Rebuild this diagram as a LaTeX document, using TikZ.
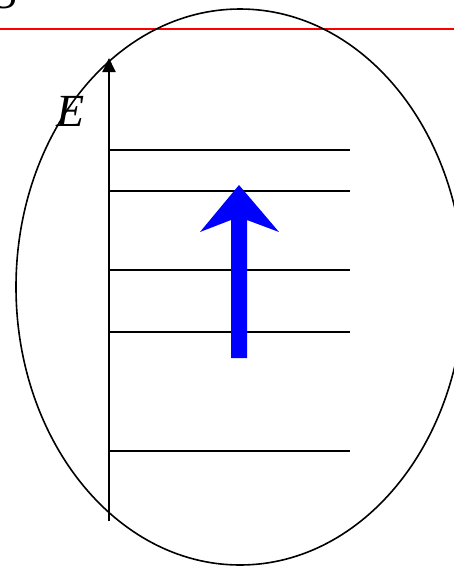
\documentclass[tikz,border=0pt]{standalone}
\usepackage{fontspec}
\setmainfont{Liberation Serif}
\usetikzlibrary{arrows.meta}
\begin{document}
\begin{tikzpicture}[x=1pt,y=-1pt,
  level/.style={line width=2pt},
  axisline/.style={line width=2pt,-{Triangle[length=14pt,width=13pt]}},
  bluearrow/.style={fill=blue,draw=none},
  bigtext/.style={font=\fontsize{46}{50}\selectfont\itshape,inner sep=0pt}]
\useasboundingbox (0,0) rectangle (454,566);
% partial label at top left (cut off)
\node[bigtext,anchor=base west] (s) at (-6,8) {S};
% red line
\draw[red,line width=2pt] (0,28.5) coordinate (r1) -- (454,28.5) coordinate (r2);
% ellipse
\draw[line width=1.6pt] (240,287) ellipse [x radius=224, y radius=278];
% axis
\coordinate (a0) at (109,521);
\coordinate (a1) at (109,58);
\draw[axisline] (a0) -- (a1);
\node[bigtext] (E) at (71,111) {E};
% levels
\foreach \yy in {150,191,270,332,451}
  \draw[level] (109,\yy) -- (350,\yy);
% blue arrow
\fill[bluearrow] (231,358) -- (231,220) -- (200,232) -- (239,185) -- (279,232) -- (247,220) -- (247,358) -- cycle;
\end{tikzpicture}
\end{document}
